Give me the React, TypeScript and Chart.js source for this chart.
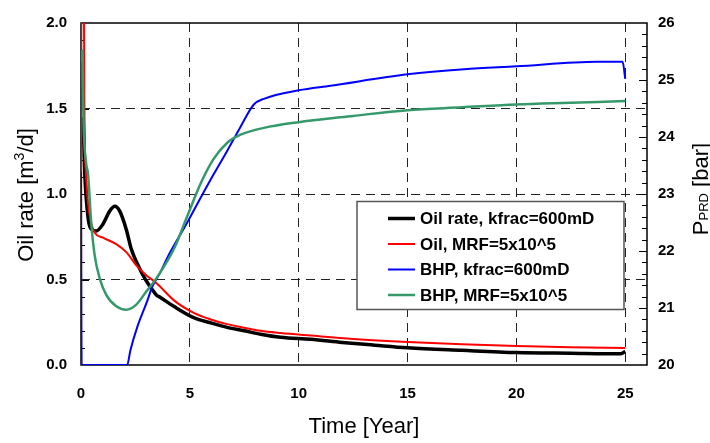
import React, { useEffect, useRef } from "react";
import { Chart, registerables } from "chart.js";

Chart.register(...registerables);

const FONT = "'Liberation Sans', Arial, Helvetica, sans-serif";

// Oil rate, kfrac = 600 mD  [m3/d]
const oilKfracTime = [0.1, 0.15, 0.2, 0.27, 0.35, 0.47, 0.7, 1.0, 1.32, 1.55, 1.78, 2.08, 2.31, 2.62, 2.93, 3.23, 3.46, 3.65, 4.3, 5.18, 6.0, 6.71, 7.5, 8.25, 9.17, 10.55, 12.0, 13.5, 15.0, 17.5, 20.0, 22.5, 24.8, 25.0];
const oilKfracRate = [1.45, 1.2, 1.05, 0.93, 0.84, 0.795, 0.784, 0.822, 0.9, 0.928, 0.9, 0.793, 0.678, 0.583, 0.506, 0.448, 0.41, 0.395, 0.34, 0.277, 0.245, 0.22, 0.2, 0.18, 0.162, 0.15, 0.132, 0.116, 0.101, 0.086, 0.073, 0.069, 0.066, 0.08];

// Oil, MRF = 5x10^5  [m3/d]
const oilMrfTime = [0, 0.02, 0.13, 0.16, 0.21, 0.26, 0.32, 0.47, 0.63, 1.01, 1.62, 2.08, 2.54, 3.0, 3.46, 4.3, 5.18, 6.0, 6.71, 7.5, 8.25, 9.17, 10.55, 12.5, 15.0, 17.5, 20.0, 22.5, 25.0];
const oilMrfRate = [0.12, 2.2, 2.2, 1.45, 1.16, 1.05, 0.95, 0.83, 0.774, 0.745, 0.707, 0.66, 0.583, 0.525, 0.48, 0.375, 0.305, 0.265, 0.239, 0.218, 0.2, 0.187, 0.172, 0.152, 0.134, 0.121, 0.111, 0.104, 0.099];

// BHP, kfrac = 600 mD  [bar]
const bhpKfracTime = [0, 0.03, 2.12, 2.27, 2.58, 3.04, 3.27, 3.65, 3.96, 4.88, 5.49, 6.1, 6.72, 7.3, 7.94, 8.4, 10.0, 11.47, 15.0, 17.6, 20.0, 23.7, 24.88, 25.0];
const bhpKfracBar = [23.39, 20.0, 20.0, 20.26, 20.66, 21.12, 21.37, 21.63, 21.88, 22.5, 22.93, 23.35, 23.76, 24.16, 24.57, 24.67, 24.82, 24.9, 25.1, 25.19, 25.24, 25.32, 25.32, 25.02];

// BHP, MRF = 5x10^5  [bar]
const bhpMrfTime = [0, 0.06, 0.12, 0.24, 0.32, 0.47, 0.63, 0.86, 1.16, 1.62, 2.08, 2.54, 3.0, 3.46, 4.26, 4.88, 5.49, 6.1, 6.72, 7.33, 8.4, 10.0, 12.5, 15.0, 17.5, 20.0, 22.5, 25.0];
const bhpMrfBar = [25.31, 25.52, 24.22, 23.53, 23.36, 22.49, 21.92, 21.52, 21.23, 21.03, 20.97, 21.06, 21.29, 21.52, 22.03, 22.61, 23.18, 23.62, 23.9, 24.04, 24.16, 24.26, 24.37, 24.47, 24.52, 24.57, 24.6, 24.63];

const seriesLabels = ["Oil rate, kfrac=600mD", "Oil, MRF=5x10^5", "BHP, kfrac=600mD", "BHP, MRF=5x10^5"];
const seriesColors = ["#000000", "#ff0000", "#0000ff", "#35996a"];
const seriesWidths = [3.5, 2, 2, 2.5];

const timeTicks = [0, 5, 10, 15, 20, 25];

const toPoints = (xs: number[], ys: number[]) => xs.map((x, i) => ({ x, y: ys[i] }));

type Part = { text: string; size: number; dy: number };

function drawParts(ctx: CanvasRenderingContext2D, x: number, y: number, parts: Part[], rotate: boolean) {
  ctx.save();
  ctx.translate(x, y);
  if (rotate) ctx.rotate(-Math.PI / 2);
  ctx.fillStyle = "#000";
  ctx.textAlign = "left";
  ctx.textBaseline = "alphabetic";
  let total = 0;
  const widths = parts.map((p) => {
    ctx.font = `${p.size}px ${FONT}`;
    const w = ctx.measureText(p.text).width;
    total += w;
    return w;
  });
  let cx = -total / 2;
  parts.forEach((p, i) => {
    ctx.font = `${p.size}px ${FONT}`;
    ctx.fillText(p.text, cx, p.dy);
    cx += widths[i];
  });
  ctx.restore();
}

const framePlugin = {
  id: "frameAndLegend",
  // frame and inward ticks sit underneath the curves
  beforeDatasetsDraw(chart: any) {
    const { ctx, chartArea: a, scales } = chart;
    const yL = scales.y;
    const yR = scales.y1;
    ctx.save();
    ctx.strokeStyle = "#000";
    ctx.lineWidth = 1;
    ctx.beginPath();
    for (let i = 1; i < 20; i++) {
      const py = Math.round(yL.getPixelForValue(i * 0.1)) + 0.5;
      const len = i % 5 === 0 ? 8 : 4;
      ctx.moveTo(a.left, py);
      ctx.lineTo(a.left + len, py);
    }
    for (let i = 1; i < 30; i++) {
      const py = Math.round(yR.getPixelForValue(20 + i * 0.2)) + 0.5;
      const len = i % 5 === 0 ? 8 : 5;
      ctx.moveTo(a.right - len, py);
      ctx.lineTo(a.right, py);
    }
    ctx.stroke();
    ctx.lineWidth = 1.5;
    ctx.strokeRect(a.left, a.top, a.right - a.left, a.bottom - a.top);
    ctx.restore();
  },
  afterDraw(chart: any) {
    const { ctx, chartArea: a } = chart;
    ctx.save();

    // legend box
    const bx = a.left + 276;
    const by = a.top + 178.5;
    const bw = 267;
    const bh = 108;
    ctx.fillStyle = "#fff";
    ctx.fillRect(bx, by, bw, bh);
    ctx.strokeStyle = "#555";
    ctx.lineWidth = 1.5;
    ctx.strokeRect(bx, by, bw, bh);
    ctx.font = `bold 17px ${FONT}`;
    ctx.textBaseline = "middle";
    ctx.textAlign = "left";
    chart.data.datasets.forEach((ds: any, i: number) => {
      const ry = by + 17 + i * 25.5;
      ctx.strokeStyle = ds.borderColor;
      ctx.lineWidth = ds.borderWidth;
      ctx.beginPath();
      ctx.moveTo(bx + 31, ry);
      ctx.lineTo(bx + 58, ry);
      ctx.stroke();
      ctx.fillStyle = "#000";
      ctx.fillText(ds.label, bx + 63, ry + 1);
    });

    // axis titles
    drawParts(ctx, 33, (a.top + a.bottom) / 2 + 1, [
      { text: "Oil rate [m", size: 22, dy: 0 },
      { text: "3", size: 14, dy: -9 },
      { text: "/d]", size: 22, dy: 0 },
    ], true);
    drawParts(ctx, 708, (a.top + a.bottom) / 2 - 5, [
      { text: "P", size: 22, dy: 0 },
      { text: "PRD", size: 13, dy: 0 },
      { text: " [bar]", size: 22, dy: 0 },
    ], true);
    drawParts(ctx, (a.left + a.right) / 2, 433, [{ text: "Time [Year]", size: 22, dy: 0 }], false);

    ctx.restore();
  },
};

export default function App() {
  const canvasRef = useRef<HTMLCanvasElement>(null);

  useEffect(() => {
    const series = [
      { xs: oilKfracTime, ys: oilKfracRate, axis: "y", order: 4 },
      { xs: oilMrfTime, ys: oilMrfRate, axis: "y", order: 3 },
      { xs: bhpKfracTime, ys: bhpKfracBar, axis: "y1", order: 2 },
      { xs: bhpMrfTime, ys: bhpMrfBar, axis: "y1", order: 1 },
    ];
    const datasets = series.map((s, i) => ({
      label: seriesLabels[i],
      data: toPoints(s.xs, s.ys),
      yAxisID: s.axis,
      order: s.order,
      borderColor: seriesColors[i],
      backgroundColor: seriesColors[i],
      borderWidth: seriesWidths[i],
      pointRadius: 0,
      fill: false,
      cubicInterpolationMode: "monotone" as const,
    }));

    const tickFont = { family: FONT, size: 15, weight: "bold" as const };
    const gridColor = (edgeValues: number[]) => (c: any) =>
      c.tick && edgeValues.includes(c.tick.value) ? "rgba(0,0,0,0)" : "#222";

    const chart = new Chart(canvasRef.current!, {
      type: "line",
      data: { datasets },
      options: {
        animation: false,
        responsive: true,
        maintainAspectRatio: false,
        layout: { padding: { top: 16.5, left: 0, right: 0, bottom: 0 } },
        plugins: { legend: { display: false }, tooltip: { enabled: false } },
        scales: {
          x: {
            type: "linear",
            min: 0,
            max: 26,
            afterBuildTicks: (s: any) => {
              s.ticks = timeTicks.map((v) => ({ value: v }));
            },
            afterFit: (s: any) => {
              s.height = 78;
            },
            ticks: { font: tickFont, color: "#000", padding: 20, maxRotation: 0 },
            grid: { color: gridColor([0]), lineWidth: 1, drawTicks: false },
            border: { display: false, dash: [9, 6] },
          },
          y: {
            type: "linear",
            position: "left",
            min: 0,
            max: 2,
            ticks: {
              stepSize: 0.5,
              font: tickFont,
              color: "#000",
              padding: 14,
              callback: (v: any) => Number(v).toFixed(1),
            },
            afterFit: (s: any) => {
              s.width = 81;
            },
            grid: { color: gridColor([0, 2]), lineWidth: 1, drawTicks: false },
            border: { display: false, dash: [9, 6] },
          },
          y1: {
            type: "linear",
            position: "right",
            min: 20,
            max: 26,
            ticks: { stepSize: 1, font: tickFont, color: "#000", padding: 11 },
            afterFit: (s: any) => {
              s.width = 63;
            },
            grid: { drawOnChartArea: false, drawTicks: false },
            border: { display: false },
          },
        },
      },
      plugins: [framePlugin],
    });

    return () => chart.destroy();
  }, []);

  return (
    <div style={{ position: "absolute", left: 0, top: 0, width: 710, height: 443, background: "#fff" }}>
      <canvas ref={canvasRef} />
    </div>
  );
}
